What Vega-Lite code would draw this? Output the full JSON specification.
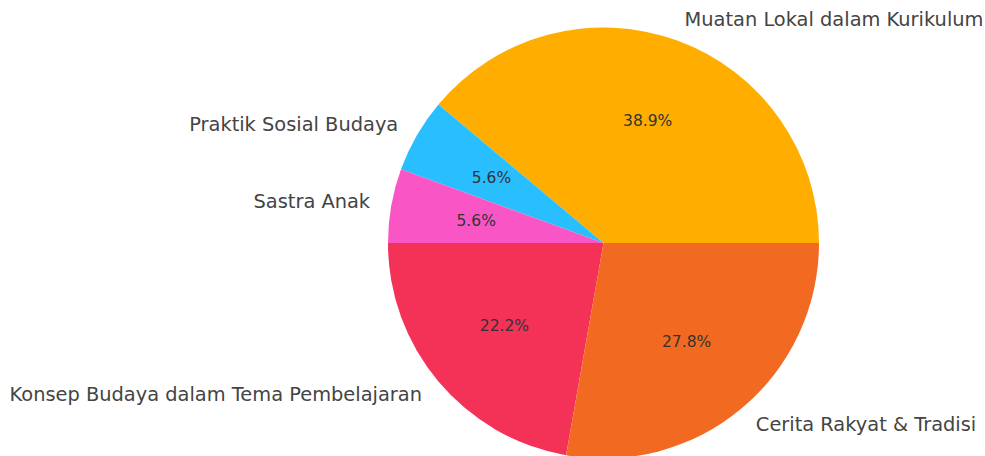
{
  "$schema": "https://vega.github.io/schema/vega-lite/v6.json",
  "width": 431,
  "height": 426,
  "autosize": {"type": "none"},
  "padding": {"left": 388, "top": 30, "right": 166, "bottom": 0},
  "background": "white",
  "config": {"view": {"stroke": null}, "font": "DejaVu Sans"},
  "data": {
    "values": [
      {"kategori": "Muatan Lokal dalam Kurikulum", "jumlah": 7, "urut": 1, "sisi": "kanan"},
      {"kategori": "Praktik Sosial Budaya", "jumlah": 1, "urut": 2, "sisi": "kiri"},
      {"kategori": "Sastra Anak", "jumlah": 1, "urut": 3, "sisi": "kiri"},
      {"kategori": "Konsep Budaya dalam Tema Pembelajaran", "jumlah": 4, "urut": 4, "sisi": "kiri"},
      {"kategori": "Cerita Rakyat & Tradisi", "jumlah": 5, "urut": 5, "sisi": "kanan"}
    ]
  },
  "transform": [
    {"joinaggregate": [{"op": "sum", "field": "jumlah", "as": "total"}]},
    {"calculate": "datum.jumlah / datum.total", "as": "bagian"}
  ],
  "encoding": {
    "theta": {"field": "jumlah", "type": "quantitative", "stack": true, "scale": {"range": [1.5707963, 7.8539816]}},
    "order": {"field": "urut", "type": "quantitative", "sort": "descending"}
  },
  "layer": [
    {
      "mark": {"type": "arc", "outerRadius": 215.5},
      "encoding": {
        "color": {
          "field": "kategori",
          "type": "nominal",
          "legend": null,
          "scale": {
            "domain": ["Muatan Lokal dalam Kurikulum", "Praktik Sosial Budaya", "Sastra Anak", "Konsep Budaya dalam Tema Pembelajaran", "Cerita Rakyat & Tradisi"],
            "range": ["#FFAE00", "#29BFFF", "#F955C5", "#F43157", "#F26A22"]
          }
        }
      }
    },
    {
      "mark": {"type": "text", "radius": 129.3, "fontSize": 15.5, "color": "#333333", "align": "center", "baseline": "middle"},
      "encoding": {"text": {"field": "bagian", "type": "quantitative", "format": ".1%"}}
    },
    {
      "mark": {"type": "text", "radius": 237, "fontSize": 19.4, "color": "#444444", "align": "left", "baseline": "middle"},
      "encoding": {
        "text": {"condition": {"test": "datum.sisi === 'kanan'", "field": "kategori"}, "value": ""}
      }
    },
    {
      "mark": {"type": "text", "radius": 237, "fontSize": 19.4, "color": "#444444", "align": "right", "baseline": "middle"},
      "encoding": {
        "text": {"condition": {"test": "datum.sisi === 'kiri'", "field": "kategori"}, "value": ""}
      }
    }
  ]
}
